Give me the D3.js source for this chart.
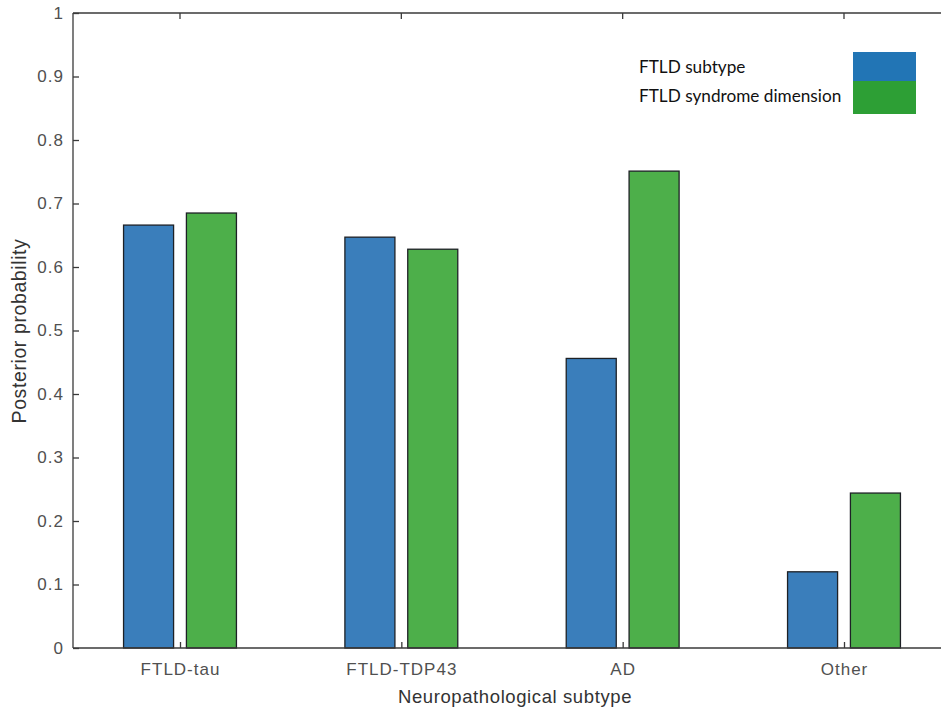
<!DOCTYPE html>
<html>
<head>
<meta charset="utf-8">
<script src="https://cdn.jsdelivr.net/npm/d3@7"></script>
<style>
  html, body { margin: 0; padding: 0; background: #fff; }
  svg { display: block; }
</style>
</head>
<body>
<div id="chart"></div>
<script>
// Data
const categories = ["FTLD-tau", "FTLD-TDP43", "AD", "Other"];
const seriesNames = ["FTLD subtype", "FTLD syndrome dimension"];
const subtypeValues = [0.666, 0.647, 0.456, 0.120];
const syndromeValues = [0.685, 0.628, 0.751, 0.244];
const yTicks = [0, 0.1, 0.2, 0.3, 0.4, 0.5, 0.6, 0.7, 0.8, 0.9, 1];

const width = 941, height = 711;
const plot = { left: 73, right: 951, top: 13, bottom: 648 };
const barColors = ["#3a7ebb", "#4daf4a"];
const legendColors = ["#2275b5", "#2d9f35"];
const axisFont = "Liberation Sans, Arial, sans-serif";

const svg = d3.select("#chart").append("svg")
    .attr("width", width)
    .attr("height", height);

// category index -> x position (ticks at 1..4)
const x = d3.scaleLinear().domain([1, 4]).range([180, 844]);
const y = d3.scaleLinear().domain([0, 1]).range([plot.bottom, plot.top]);

const barOffset = 0.142, barWidth = 0.226;
const series = [subtypeValues, syndromeValues];

// Bars
series.forEach((vals, s) => {
    const off = s === 0 ? -barOffset : barOffset;
    svg.append("g").selectAll("rect")
        .data(vals)
        .enter().append("rect")
        .attr("x", (d, i) => x(i + 1 + off - barWidth / 2))
        .attr("width", x(1 + barWidth) - x(1))
        .attr("y", d => y(d))
        .attr("height", d => y(0) - y(d))
        .attr("fill", barColors[s])
        .attr("stroke", "#1e2126")
        .attr("stroke-width", 1.3);
});

// Axes box
const axisColor = "#3a3a3a";
const box = svg.append("g").attr("stroke", axisColor).attr("stroke-width", 1.3).attr("fill", "none");
box.append("line").attr("x1", plot.left).attr("x2", plot.right).attr("y1", plot.bottom).attr("y2", plot.bottom);
box.append("line").attr("x1", plot.left).attr("x2", plot.right).attr("y1", plot.top).attr("y2", plot.top);
box.append("line").attr("x1", plot.left).attr("x2", plot.left).attr("y1", plot.top).attr("y2", plot.bottom);

// Left axis (ticks inward)
const yAxis = d3.axisLeft(y).tickValues(yTicks).tickSize(-6)
    .tickFormat(d => d === 0 || d === 1 ? d3.format("d")(d) : d3.format(".1f")(d));
const gy = svg.append("g").attr("transform", `translate(${plot.left},0)`).call(yAxis);
gy.select(".domain").remove();
gy.selectAll(".tick line").attr("stroke", axisColor).attr("stroke-width", 1.3);
gy.selectAll(".tick text")
    .attr("x", -9)
    .attr("fill", "#505050")
    .style("font-family", axisFont)
    .style("font-size", "17px")
    .style("letter-spacing", "1px");

// Bottom axis (ticks inward)
const xAxis = d3.axisBottom(x).tickValues([1, 2, 3, 4]).tickSize(-6)
    .tickFormat(d => categories[d - 1]);
const gx = svg.append("g").attr("transform", `translate(0,${plot.bottom})`).call(xAxis);
gx.select(".domain").remove();
gx.selectAll(".tick line").attr("stroke", axisColor).attr("stroke-width", 1.3);
gx.selectAll(".tick text")
    .attr("y", 15)
    .attr("fill", "#505050")
    .style("font-family", axisFont)
    .style("font-size", "17px")
    .style("letter-spacing", "1px");

// Top mirrored ticks
svg.append("g").selectAll("line")
    .data([1, 2, 3, 4])
    .enter().append("line")
    .attr("x1", d => x(d)).attr("x2", d => x(d))
    .attr("y1", plot.top).attr("y2", plot.top + 6)
    .attr("stroke", axisColor).attr("stroke-width", 1.3);

// Axis titles
svg.append("text")
    .attr("x", 515)
    .attr("y", 703)
    .attr("text-anchor", "middle")
    .attr("fill", "#333")
    .style("font-family", axisFont)
    .style("font-size", "18.5px")
    .style("letter-spacing", "0.6px")
    .text("Neuropathological subtype");

svg.append("text")
    .attr("transform", "translate(26,331) rotate(-90)")
    .attr("text-anchor", "middle")
    .attr("fill", "#333")
    .style("font-family", axisFont)
    .style("font-size", "19.5px")
    .style("letter-spacing", "0.6px")
    .text("Posterior probability");

// Legend
const legend = svg.append("g");
const legendRows = [52, 81, 114];
seriesNames.forEach((name, i) => {
    legend.append("rect")
        .attr("x", 853).attr("width", 63)
        .attr("y", legendRows[i]).attr("height", legendRows[i + 1] - legendRows[i])
        .attr("fill", legendColors[i]);
    legend.append("text")
        .attr("x", 639)
        .attr("y", 73 + i * 29)
        .attr("fill", "#111")
        .style("font-family", "Lato, 'Open Sans', sans-serif")
        .style("font-size", "17.2px")
        .text(name);
});
</script>
</body>
</html>
